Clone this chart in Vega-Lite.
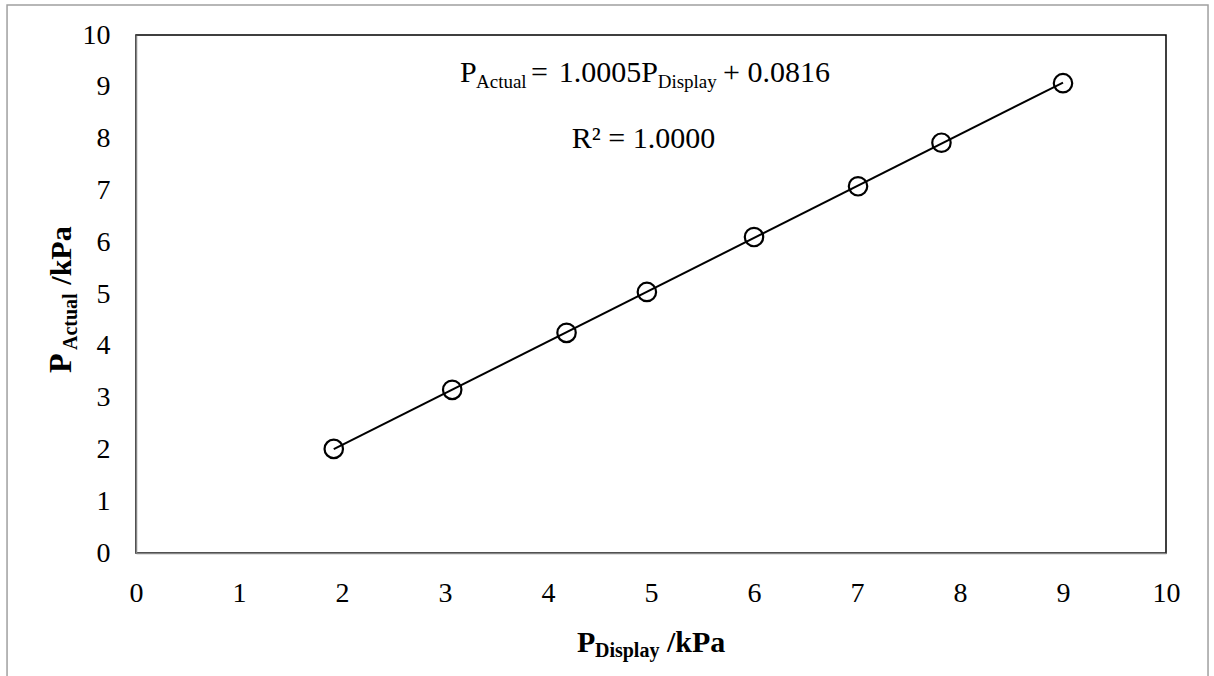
{
  "$schema": "https://vega.github.io/schema/vega-lite/v6.json",
  "width": 1030,
  "height": 518,
  "autosize": {"type": "none"},
  "padding": {"left": 136, "top": 35, "right": 48, "bottom": 123},
  "background": "white",
  "config": {
    "view": {"stroke": "black", "strokeWidth": 1.5},
    "font": "Liberation Serif"
  },
  "data": {
    "values": [
      {"p_display": 1.92, "p_actual": 2.01},
      {"p_display": 3.07, "p_actual": 3.15},
      {"p_display": 4.18, "p_actual": 4.25},
      {"p_display": 4.96, "p_actual": 5.04},
      {"p_display": 6.00, "p_actual": 6.10},
      {"p_display": 7.01, "p_actual": 7.08},
      {"p_display": 7.82, "p_actual": 7.92},
      {"p_display": 9.00, "p_actual": 9.07}
    ]
  },
  "layer": [
    {
      "data": {"values": [{}]},
      "mark": {"type": "rect", "filled": false, "stroke": "#a0a0a0", "strokeWidth": 1.5},
      "encoding": {
        "x": {"datum": -1.252, "type": "quantitative"},
        "x2": {"datum": 10.408},
        "y": {"datum": 10.58, "type": "quantitative"},
        "y2": {"datum": -3}
      }
    },
    {
      "transform": [{"regression": "p_actual", "on": "p_display"}],
      "mark": {"type": "line", "color": "black", "strokeWidth": 2},
      "encoding": {
        "x": {"field": "p_display", "type": "quantitative"},
        "y": {"field": "p_actual", "type": "quantitative"}
      }
    },
    {
      "mark": {"type": "point", "shape": "circle", "filled": false, "color": "black", "strokeWidth": 2.2, "size": 340, "opacity": 1},
      "encoding": {
        "x": {
          "field": "p_display", "type": "quantitative",
          "scale": {"domain": [0, 10], "nice": false, "zero": false},
          "axis": {
            "values": [0, 1, 2, 3, 4, 5, 6, 7, 8, 9, 10], "format": "d",
            "title": null, "grid": false, "ticks": false,
            "domainColor": "#868686", "domainWidth": 1.5,
            "labelFont": "Liberation Serif", "labelFontSize": 28, "labelColor": "black",
            "labelPadding": 26, "labelFlush": false, "labelOverlap": false
          }
        },
        "y": {
          "field": "p_actual", "type": "quantitative",
          "scale": {"domain": [0, 10], "nice": false, "zero": false},
          "axis": {
            "values": [0, 1, 2, 3, 4, 5, 6, 7, 8, 9, 10], "format": "d",
            "title": null, "grid": false, "ticks": false,
            "domainColor": "#868686", "domainWidth": 1.5,
            "labelFont": "Liberation Serif", "labelFontSize": 28, "labelColor": "black",
            "labelPadding": 26, "labelFlush": false, "labelOverlap": false
          }
        }
      }
    },
    {
      "data": {"values": [{}]},
      "mark": {"type": "text", "text": "P", "font": "Liberation Serif", "fontSize": 30, "align": "left", "baseline": "alphabetic", "color": "black"},
      "encoding": {"x": {"datum": 3.146, "type": "quantitative"}, "y": {"datum": 9.093, "type": "quantitative"}}
    },
    {
      "data": {"values": [{}]},
      "mark": {"type": "text", "text": "Actual", "font": "Liberation Serif", "fontSize": 19, "align": "left", "baseline": "alphabetic", "color": "black"},
      "encoding": {"x": {"datum": 3.301, "type": "quantitative"}, "y": {"datum": 8.977, "type": "quantitative"}}
    },
    {
      "data": {"values": [{}]},
      "mark": {"type": "text", "text": "=", "font": "Liberation Serif", "fontSize": 30, "align": "left", "baseline": "alphabetic", "color": "black"},
      "encoding": {"x": {"datum": 3.835, "type": "quantitative"}, "y": {"datum": 9.093, "type": "quantitative"}}
    },
    {
      "data": {"values": [{}]},
      "mark": {"type": "text", "text": "1.0005P", "font": "Liberation Serif", "fontSize": 30, "align": "left", "baseline": "alphabetic", "color": "black"},
      "encoding": {"x": {"datum": 4.105, "type": "quantitative"}, "y": {"datum": 9.093, "type": "quantitative"}}
    },
    {
      "data": {"values": [{}]},
      "mark": {"type": "text", "text": "Display", "font": "Liberation Serif", "fontSize": 19, "align": "left", "baseline": "alphabetic", "color": "black"},
      "encoding": {"x": {"datum": 5.065, "type": "quantitative"}, "y": {"datum": 8.977, "type": "quantitative"}}
    },
    {
      "data": {"values": [{}]},
      "mark": {"type": "text", "text": "+ 0.0816", "font": "Liberation Serif", "fontSize": 30, "align": "left", "baseline": "alphabetic", "color": "black"},
      "encoding": {"x": {"datum": 5.70, "type": "quantitative"}, "y": {"datum": 9.093, "type": "quantitative"}}
    },
    {
      "data": {"values": [{}]},
      "mark": {"type": "text", "text": "R² = 1.0000", "font": "Liberation Serif", "fontSize": 30, "align": "center", "baseline": "alphabetic", "color": "black"},
      "encoding": {"x": {"datum": 4.927, "type": "quantitative"}, "y": {"datum": 7.819, "type": "quantitative"}}
    },
    {
      "data": {"values": [{}]},
      "mark": {"type": "text", "text": "P", "font": "Liberation Serif", "fontSize": 30, "fontWeight": "bold", "align": "left", "baseline": "alphabetic", "color": "black"},
      "encoding": {"x": {"datum": 4.282, "type": "quantitative"}, "y": {"datum": -1.911, "type": "quantitative"}}
    },
    {
      "data": {"values": [{}]},
      "mark": {"type": "text", "text": "Display", "font": "Liberation Serif", "fontSize": 20, "fontWeight": "bold", "align": "left", "baseline": "alphabetic", "color": "black"},
      "encoding": {"x": {"datum": 4.456, "type": "quantitative"}, "y": {"datum": -2.008, "type": "quantitative"}}
    },
    {
      "data": {"values": [{}]},
      "mark": {"type": "text", "text": "/kPa", "font": "Liberation Serif", "fontSize": 30, "fontWeight": "bold", "align": "left", "baseline": "alphabetic", "color": "black"},
      "encoding": {"x": {"datum": 5.155, "type": "quantitative"}, "y": {"datum": -1.911, "type": "quantitative"}}
    },
    {
      "data": {"values": [{}]},
      "mark": {"type": "text", "text": "P", "font": "Liberation Serif", "fontSize": 32, "fontWeight": "bold", "align": "left", "baseline": "alphabetic", "angle": 270, "color": "black"},
      "encoding": {"x": {"datum": -0.631, "type": "quantitative"}, "y": {"datum": 3.475, "type": "quantitative"}}
    },
    {
      "data": {"values": [{}]},
      "mark": {"type": "text", "text": "Actual", "font": "Liberation Serif", "fontSize": 20, "fontWeight": "bold", "align": "left", "baseline": "alphabetic", "angle": 270, "color": "black"},
      "encoding": {"x": {"datum": -0.573, "type": "quantitative"}, "y": {"datum": 3.919, "type": "quantitative"}}
    },
    {
      "data": {"values": [{}]},
      "mark": {"type": "text", "text": "/kPa", "font": "Liberation Serif", "fontSize": 30, "fontWeight": "bold", "align": "left", "baseline": "alphabetic", "angle": 270, "color": "black"},
      "encoding": {"x": {"datum": -0.631, "type": "quantitative"}, "y": {"datum": 5.18, "type": "quantitative"}}
    }
  ]
}
